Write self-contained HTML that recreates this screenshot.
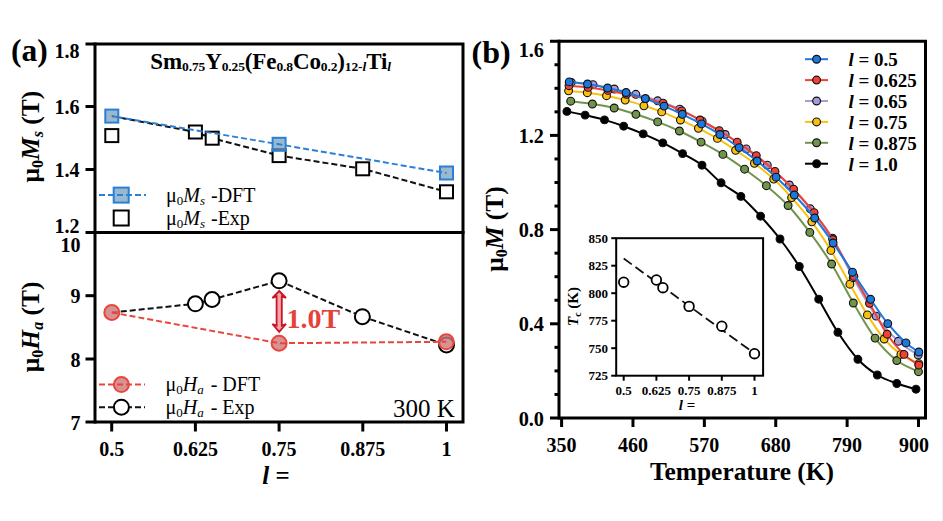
<!DOCTYPE html>
<html><head><meta charset="utf-8"><style>
html,body{margin:0;padding:0;background:#fff;}
body{width:943px;height:521px;overflow:hidden;}
svg{display:block;}
text{font-family:"Liberation Serif", serif;}
</style></head><body>
<svg width="943" height="521" viewBox="0 0 943 521" font-family='"Liberation Serif", serif'>
<rect x="0" y="0" width="943" height="521" fill="#fff"/>
<rect x="942" y="0" width="1" height="521" fill="#eef1f8"/>
<path d="M85.5,44 H463 V422 H85.5" fill="none" stroke="#000" stroke-width="3" stroke-linejoin="miter"/>
<line x1="95" y1="42.5" x2="95" y2="423.5" stroke="#000" stroke-width="3" />
<line x1="85.5" y1="232.5" x2="464.5" y2="232.5" stroke="#000" stroke-width="3" />
<line x1="85.5" y1="106.5" x2="95" y2="106.5" stroke="#000" stroke-width="3" />
<line x1="85.5" y1="169.5" x2="95" y2="169.5" stroke="#000" stroke-width="3" />
<line x1="85.5" y1="295.7" x2="95" y2="295.7" stroke="#000" stroke-width="3" />
<line x1="85.5" y1="359" x2="95" y2="359" stroke="#000" stroke-width="3" />
<line x1="111.7" y1="422" x2="111.7" y2="431.5" stroke="#000" stroke-width="3" />
<line x1="195.4" y1="422" x2="195.4" y2="431.5" stroke="#000" stroke-width="3" />
<line x1="279.1" y1="422" x2="279.1" y2="431.5" stroke="#000" stroke-width="3" />
<line x1="362.8" y1="422" x2="362.8" y2="431.5" stroke="#000" stroke-width="3" />
<line x1="446.5" y1="422" x2="446.5" y2="431.5" stroke="#000" stroke-width="3" />
<text x="79.5" y="57.8" font-size="20" text-anchor="end" font-weight="bold" font-style="normal" fill="#000" >1.8</text>
<text x="79.5" y="114.3" font-size="20" text-anchor="end" font-weight="bold" font-style="normal" fill="#000" >1.6</text>
<text x="79.5" y="176.8" font-size="20" text-anchor="end" font-weight="bold" font-style="normal" fill="#000" >1.4</text>
<text x="79.5" y="233" font-size="20" text-anchor="end" font-weight="bold" font-style="normal" fill="#000" >1.2</text>
<text x="80.5" y="252.2" font-size="20" text-anchor="end" font-weight="bold" font-style="normal" fill="#000" >10</text>
<text x="80.5" y="303" font-size="20" text-anchor="end" font-weight="bold" font-style="normal" fill="#000" >9</text>
<text x="80.5" y="366.9" font-size="20" text-anchor="end" font-weight="bold" font-style="normal" fill="#000" >8</text>
<text x="80.5" y="429.6" font-size="20" text-anchor="end" font-weight="bold" font-style="normal" fill="#000" >7</text>
<text x="111.7" y="455.5" font-size="20" text-anchor="middle" font-weight="bold" font-style="normal" fill="#000" >0.5</text>
<text x="195.4" y="455.5" font-size="20" text-anchor="middle" font-weight="bold" font-style="normal" fill="#000" >0.625</text>
<text x="279.1" y="455.5" font-size="20" text-anchor="middle" font-weight="bold" font-style="normal" fill="#000" >0.75</text>
<text x="362.8" y="455.5" font-size="20" text-anchor="middle" font-weight="bold" font-style="normal" fill="#000" >0.875</text>
<text x="446.5" y="455.5" font-size="20" text-anchor="middle" font-weight="bold" font-style="normal" fill="#000" >1</text>
<text x="276" y="483.5" font-size="25" font-weight="bold" text-anchor="middle"><tspan font-style="italic">l</tspan> =</text>
<text x="11" y="60.5" font-size="31.5" text-anchor="start" font-weight="bold" font-style="normal" fill="#000" >(a)</text>
<text transform="translate(38.5,136.5) rotate(-90)" font-size="25.5" font-weight="bold" text-anchor="middle">&#956;<tspan font-size="16" dy="4">0</tspan><tspan font-style="italic" dy="-4">M</tspan><tspan font-style="italic" font-size="16" dy="4">s</tspan><tspan dy="-4"> (T)</tspan></text>
<text transform="translate(38.5,326.8) rotate(-90)" font-size="25.5" font-weight="bold" text-anchor="middle">&#956;<tspan font-size="16" dy="4">0</tspan><tspan font-style="italic" dy="-4">H</tspan><tspan font-style="italic" font-size="16" dy="4">a</tspan><tspan dy="-4"> (T)</tspan></text>
<text x="150.3" y="68.6" font-size="23" font-weight="bold" letter-spacing="-0.12">Sm<tspan font-size="13.5" dy="2.6">0.75</tspan><tspan dy="-2.6">Y</tspan><tspan font-size="13.5" dy="2.6">0.25</tspan><tspan dy="-2.6">(Fe</tspan><tspan font-size="13.5" dy="2.6">0.8</tspan><tspan dy="-2.6">Co</tspan><tspan font-size="13.5" dy="2.6">0.2</tspan><tspan dy="-2.6">)</tspan><tspan font-size="13.5" dy="2.6">12-</tspan><tspan font-size="13.5" font-style="italic">l</tspan><tspan dy="-2.6">Ti</tspan><tspan font-size="13.5" font-style="italic" dy="2.6">l</tspan></text>
<polyline points="111.8,116.1 195.4,132 212.2,138.2 279.1,155.6 362.7,168.8 446.5,191.8" fill="none" stroke="#111" stroke-width="2" stroke-dasharray="6,3"/>
<rect x="105.3" y="129.1" width="13" height="13" fill="#fff" stroke="#000" stroke-width="2"/>
<rect x="188.9" y="125.5" width="13" height="13" fill="#fff" stroke="#000" stroke-width="2"/>
<rect x="205.7" y="131.7" width="13" height="13" fill="#fff" stroke="#000" stroke-width="2"/>
<rect x="272.6" y="149.1" width="13" height="13" fill="#fff" stroke="#000" stroke-width="2"/>
<rect x="356.2" y="162.3" width="13" height="13" fill="#fff" stroke="#000" stroke-width="2"/>
<rect x="440.0" y="185.3" width="13" height="13" fill="#fff" stroke="#000" stroke-width="2"/>
<rect x="105.3" y="109.6" width="13" height="13" fill="rgba(120,160,190,0.75)" stroke="#2a7fd6" stroke-width="2"/>
<rect x="272.6" y="137.8" width="13" height="13" fill="rgba(120,160,190,0.75)" stroke="#2a7fd6" stroke-width="2"/>
<rect x="440.0" y="166.5" width="13" height="13" fill="rgba(120,160,190,0.75)" stroke="#2a7fd6" stroke-width="2"/>
<polyline points="111.8,116.1 279.1,144.3 446.5,173" fill="none" stroke="#2a7fd6" stroke-width="2" stroke-dasharray="6,3" stroke-dashoffset="4"/>
<rect x="113.7" y="187.6" width="15" height="15" fill="rgba(120,160,190,0.75)" stroke="#2a7fd6" stroke-width="2"/>
<line x1="99" y1="195.1" x2="146" y2="195.1" stroke="#2a7fd6" stroke-width="2" stroke-dasharray="6,3"/>
<rect x="113.7" y="210.5" width="15" height="15" fill="#fff" stroke="#000" stroke-width="2"/>
<text x="166" y="202" font-size="20">&#956;<tspan font-size="13" dy="3">0</tspan><tspan font-style="italic" dy="-3">M</tspan><tspan font-style="italic" font-size="13" dy="3">s</tspan><tspan dy="-3" dx="1"> -DFT</tspan></text>
<text x="166" y="224.6" font-size="20">&#956;<tspan font-size="13" dy="3">0</tspan><tspan font-style="italic" dy="-3">M</tspan><tspan font-style="italic" font-size="13" dy="3">s</tspan><tspan dy="-3" dx="1"> -Exp</tspan></text>
<polyline points="111.8,312.5 195.4,303.8 212.1,299.5 279.1,280.8 362.4,316.7 446.5,345" fill="none" stroke="#111" stroke-width="2" stroke-dasharray="6,3"/>
<circle cx="195.4" cy="303.8" r="7.5" fill="#fff" stroke="#000" stroke-width="2"/>
<circle cx="212.1" cy="299.5" r="7.5" fill="#fff" stroke="#000" stroke-width="2"/>
<circle cx="279.1" cy="280.8" r="7.5" fill="#fff" stroke="#000" stroke-width="2"/>
<circle cx="362.4" cy="316.7" r="7.5" fill="#fff" stroke="#000" stroke-width="2"/>
<circle cx="446.5" cy="345" r="7.5" fill="#fff" stroke="#000" stroke-width="2"/>
<circle cx="111.8" cy="312.5" r="7.5" fill="rgba(205,120,120,0.8)" stroke="#e8453c" stroke-width="2"/>
<circle cx="279.1" cy="343.2" r="7.5" fill="rgba(205,120,120,0.8)" stroke="#e8453c" stroke-width="2"/>
<circle cx="446.3" cy="341.8" r="7.5" fill="rgba(205,120,120,0.8)" stroke="#e8453c" stroke-width="2"/>
<polyline points="111.8,312.5 279.1,343.2 446.3,341.8" fill="none" stroke="#e8453c" stroke-width="2" stroke-dasharray="6,3"/>
<path d="M279.2,291 L286,298 L281.8,296.3 L281.8,325.7 L286,324 L279.2,331.8 L272.4,324 L276.6,325.7 L276.6,296.3 L272.4,298 Z" fill="#f5a3b3" stroke="#c8161f" stroke-width="1.8" stroke-linejoin="miter"/>
<text x="286.5" y="328" font-size="28" text-anchor="start" font-weight="bold" font-style="normal" fill="#e5433a" >1.0T</text>
<circle cx="121.4" cy="384.6" r="7.5" fill="rgba(205,120,120,0.8)" stroke="#e8453c" stroke-width="2"/>
<line x1="99" y1="384.6" x2="145" y2="384.6" stroke="#e8453c" stroke-width="2" stroke-dasharray="6,3"/>
<line x1="99" y1="407.2" x2="145" y2="407.2" stroke="#111" stroke-width="2" stroke-dasharray="6,3"/>
<circle cx="121.4" cy="407.2" r="7.5" fill="#fff" stroke="#000" stroke-width="2"/>
<text x="165.5" y="391" font-size="20">&#956;<tspan font-size="13" dy="3">0</tspan><tspan font-style="italic" dy="-3">H</tspan><tspan font-style="italic" font-size="13" dy="3">a</tspan><tspan dy="-3" dx="2"> - DFT</tspan></text>
<text x="165.5" y="413.8" font-size="20">&#956;<tspan font-size="13" dy="3">0</tspan><tspan font-style="italic" dy="-3">H</tspan><tspan font-style="italic" font-size="13" dy="3">a</tspan><tspan dy="-3" dx="2"> - Exp</tspan></text>
<text x="454.8" y="417" font-size="25" text-anchor="end" font-weight="normal" font-style="normal" fill="#000" >300 K</text>
<path d="M550,41.2 H925.5 V418 H550" fill="none" stroke="#000" stroke-width="3"/>
<line x1="559" y1="39.7" x2="559" y2="419.5" stroke="#000" stroke-width="3" />
<line x1="554.5" y1="394.45" x2="559" y2="394.45" stroke="#000" stroke-width="3" />
<line x1="554.5" y1="370.9" x2="559" y2="370.9" stroke="#000" stroke-width="3" />
<line x1="554.5" y1="347.35" x2="559" y2="347.35" stroke="#000" stroke-width="3" />
<line x1="550" y1="323.8" x2="559" y2="323.8" stroke="#000" stroke-width="3" />
<line x1="554.5" y1="300.25" x2="559" y2="300.25" stroke="#000" stroke-width="3" />
<line x1="554.5" y1="276.7" x2="559" y2="276.7" stroke="#000" stroke-width="3" />
<line x1="554.5" y1="253.15" x2="559" y2="253.15" stroke="#000" stroke-width="3" />
<line x1="550" y1="229.60000000000002" x2="559" y2="229.60000000000002" stroke="#000" stroke-width="3" />
<line x1="554.5" y1="206.05" x2="559" y2="206.05" stroke="#000" stroke-width="3" />
<line x1="554.5" y1="182.5" x2="559" y2="182.5" stroke="#000" stroke-width="3" />
<line x1="554.5" y1="158.95" x2="559" y2="158.95" stroke="#000" stroke-width="3" />
<line x1="550" y1="135.39999999999998" x2="559" y2="135.39999999999998" stroke="#000" stroke-width="3" />
<line x1="554.5" y1="111.85000000000002" x2="559" y2="111.85000000000002" stroke="#000" stroke-width="3" />
<line x1="554.5" y1="88.30000000000001" x2="559" y2="88.30000000000001" stroke="#000" stroke-width="3" />
<line x1="554.5" y1="64.75" x2="559" y2="64.75" stroke="#000" stroke-width="3" />
<line x1="561.6" y1="418" x2="561.6" y2="427" stroke="#000" stroke-width="3" />
<text x="561.6" y="452" font-size="20" text-anchor="middle" font-weight="bold" font-style="normal" fill="#000" >350</text>
<line x1="632.98" y1="418" x2="632.98" y2="427" stroke="#000" stroke-width="3" />
<text x="632.98" y="452" font-size="20" text-anchor="middle" font-weight="bold" font-style="normal" fill="#000" >460</text>
<line x1="704.36" y1="418" x2="704.36" y2="427" stroke="#000" stroke-width="3" />
<text x="704.36" y="452" font-size="20" text-anchor="middle" font-weight="bold" font-style="normal" fill="#000" >570</text>
<line x1="775.74" y1="418" x2="775.74" y2="427" stroke="#000" stroke-width="3" />
<text x="775.74" y="452" font-size="20" text-anchor="middle" font-weight="bold" font-style="normal" fill="#000" >680</text>
<line x1="847.12" y1="418" x2="847.12" y2="427" stroke="#000" stroke-width="3" />
<text x="847.12" y="452" font-size="20" text-anchor="middle" font-weight="bold" font-style="normal" fill="#000" >790</text>
<line x1="918.5" y1="418" x2="918.5" y2="427" stroke="#000" stroke-width="3" />
<text x="914" y="452" font-size="20" text-anchor="middle" font-weight="bold" font-style="normal" fill="#000" >900</text>
<text x="544" y="56.5" font-size="20.3" text-anchor="end" font-weight="bold" font-style="normal" fill="#000" >1.6</text>
<text x="544" y="142.89999999999998" font-size="20.3" text-anchor="end" font-weight="bold" font-style="normal" fill="#000" >1.2</text>
<text x="544" y="237.10000000000002" font-size="20.3" text-anchor="end" font-weight="bold" font-style="normal" fill="#000" >0.8</text>
<text x="544" y="331.3" font-size="20.3" text-anchor="end" font-weight="bold" font-style="normal" fill="#000" >0.4</text>
<text x="544" y="425.5" font-size="20.3" text-anchor="end" font-weight="bold" font-style="normal" fill="#000" >0.0</text>
<text x="471.5" y="62.5" font-size="32" text-anchor="start" font-weight="bold" font-style="normal" fill="#000" >(b)</text>
<text x="742" y="480.2" font-size="25.4" text-anchor="middle" font-weight="bold" font-style="normal" fill="#000" >Temperature (K)</text>
<text transform="translate(503,229) rotate(-90)" font-size="25.5" font-weight="bold" text-anchor="middle">&#956;<tspan font-size="16" dy="4">0</tspan><tspan font-style="italic" dy="-4">M</tspan><tspan font-style="normal"> (T)</tspan></text>
<path d="M566.90,111.40 C569.93,112.02 578.83,113.68 585.10,115.10 C591.37,116.52 598.07,118.05 604.50,119.90 C610.93,121.75 617.25,123.87 623.70,126.20 C630.15,128.53 636.68,131.12 643.20,133.90 C649.72,136.68 656.23,139.62 662.80,142.90 C669.37,146.18 676.07,149.88 682.60,153.60 C689.13,157.32 695.58,160.33 702.00,165.20 C708.42,170.07 714.62,177.60 721.10,182.80 C727.58,188.00 734.32,190.83 740.90,196.40 C747.48,201.97 754.08,209.10 760.60,216.20 C767.12,223.30 773.55,230.62 780.00,239.00 C786.45,247.38 792.85,256.47 799.30,266.50 C805.75,276.53 812.27,288.23 818.70,299.20 C825.13,310.17 831.37,322.28 837.90,332.30 C844.43,342.32 851.33,352.18 857.90,359.30 C864.47,366.42 870.82,370.97 877.30,375.00 C883.78,379.03 890.35,381.13 896.80,383.50 C903.25,385.87 912.80,388.25 916.00,389.20" fill="none" stroke="#000" stroke-width="2"/>
<circle cx="566.9" cy="111.4" r="3.9" fill="#000" stroke="#111" stroke-width="1.1"/>
<circle cx="585.1" cy="115.1" r="3.9" fill="#000" stroke="#111" stroke-width="1.1"/>
<circle cx="604.5" cy="119.9" r="3.9" fill="#000" stroke="#111" stroke-width="1.1"/>
<circle cx="623.7" cy="126.2" r="3.9" fill="#000" stroke="#111" stroke-width="1.1"/>
<circle cx="643.2" cy="133.9" r="3.9" fill="#000" stroke="#111" stroke-width="1.1"/>
<circle cx="662.8" cy="142.9" r="3.9" fill="#000" stroke="#111" stroke-width="1.1"/>
<circle cx="682.6" cy="153.6" r="3.9" fill="#000" stroke="#111" stroke-width="1.1"/>
<circle cx="702.0" cy="165.2" r="3.9" fill="#000" stroke="#111" stroke-width="1.1"/>
<circle cx="721.1" cy="182.8" r="3.9" fill="#000" stroke="#111" stroke-width="1.1"/>
<circle cx="740.9" cy="196.4" r="3.9" fill="#000" stroke="#111" stroke-width="1.1"/>
<circle cx="760.6" cy="216.2" r="3.9" fill="#000" stroke="#111" stroke-width="1.1"/>
<circle cx="780.0" cy="239.0" r="3.9" fill="#000" stroke="#111" stroke-width="1.1"/>
<circle cx="799.3" cy="266.5" r="3.9" fill="#000" stroke="#111" stroke-width="1.1"/>
<circle cx="818.7" cy="299.2" r="3.9" fill="#000" stroke="#111" stroke-width="1.1"/>
<circle cx="837.9" cy="332.3" r="3.9" fill="#000" stroke="#111" stroke-width="1.1"/>
<circle cx="857.9" cy="359.3" r="3.9" fill="#000" stroke="#111" stroke-width="1.1"/>
<circle cx="877.3" cy="375.0" r="3.9" fill="#000" stroke="#111" stroke-width="1.1"/>
<circle cx="896.8" cy="383.5" r="3.9" fill="#000" stroke="#111" stroke-width="1.1"/>
<circle cx="916.0" cy="389.2" r="3.9" fill="#000" stroke="#111" stroke-width="1.1"/>
<path d="M570.70,101.20 C574.32,101.67 585.19,102.87 592.44,104.00 C599.69,105.13 606.93,106.28 614.18,108.00 C621.43,109.72 628.67,111.98 635.92,114.30 C643.17,116.62 650.41,119.12 657.66,121.90 C664.91,124.68 672.15,127.63 679.40,131.00 C686.65,134.37 693.89,138.20 701.14,142.10 C708.39,146.00 715.63,149.88 722.88,154.40 C730.13,158.92 737.37,163.98 744.62,169.20 C751.87,174.42 759.11,179.65 766.36,185.70 C773.61,191.75 780.85,197.72 788.10,205.50 C795.35,213.28 802.59,222.65 809.84,232.40 C817.09,242.15 824.33,252.23 831.58,264.00 C838.83,275.77 846.07,290.65 853.32,303.00 C860.57,315.35 867.81,328.52 875.06,338.10 C882.31,347.68 889.55,354.90 896.80,360.50 C904.05,366.10 914.92,369.83 918.54,371.70" fill="none" stroke="#70944b" stroke-width="2"/>
<circle cx="570.7" cy="101.2" r="3.9" fill="#70944b" stroke="#111" stroke-width="1.1"/>
<circle cx="592.4" cy="104.0" r="3.9" fill="#70944b" stroke="#111" stroke-width="1.1"/>
<circle cx="614.2" cy="108.0" r="3.9" fill="#70944b" stroke="#111" stroke-width="1.1"/>
<circle cx="635.9" cy="114.3" r="3.9" fill="#70944b" stroke="#111" stroke-width="1.1"/>
<circle cx="657.7" cy="121.9" r="3.9" fill="#70944b" stroke="#111" stroke-width="1.1"/>
<circle cx="679.4" cy="131.0" r="3.9" fill="#70944b" stroke="#111" stroke-width="1.1"/>
<circle cx="701.1" cy="142.1" r="3.9" fill="#70944b" stroke="#111" stroke-width="1.1"/>
<circle cx="722.9" cy="154.4" r="3.9" fill="#70944b" stroke="#111" stroke-width="1.1"/>
<circle cx="744.6" cy="169.2" r="3.9" fill="#70944b" stroke="#111" stroke-width="1.1"/>
<circle cx="766.4" cy="185.7" r="3.9" fill="#70944b" stroke="#111" stroke-width="1.1"/>
<circle cx="788.1" cy="205.5" r="3.9" fill="#70944b" stroke="#111" stroke-width="1.1"/>
<circle cx="809.8" cy="232.4" r="3.9" fill="#70944b" stroke="#111" stroke-width="1.1"/>
<circle cx="831.6" cy="264.0" r="3.9" fill="#70944b" stroke="#111" stroke-width="1.1"/>
<circle cx="853.3" cy="303.0" r="3.9" fill="#70944b" stroke="#111" stroke-width="1.1"/>
<circle cx="875.1" cy="338.1" r="3.9" fill="#70944b" stroke="#111" stroke-width="1.1"/>
<circle cx="896.8" cy="360.5" r="3.9" fill="#70944b" stroke="#111" stroke-width="1.1"/>
<circle cx="918.5" cy="371.7" r="3.9" fill="#70944b" stroke="#111" stroke-width="1.1"/>
<path d="M568.60,90.80 C571.72,91.12 580.98,91.88 587.30,92.70 C593.62,93.52 600.18,94.47 606.50,95.70 C612.82,96.93 618.97,98.42 625.20,100.10 C631.43,101.78 637.82,103.83 643.90,105.80 C649.98,107.77 655.62,109.53 661.70,111.90 C667.78,114.27 674.28,117.27 680.40,120.00 C686.52,122.73 692.23,125.23 698.40,128.30 C704.57,131.37 711.20,134.73 717.40,138.40 C723.60,142.07 729.43,146.15 735.60,150.30 C741.77,154.45 748.05,158.50 754.40,163.30 C760.75,168.10 767.50,173.38 773.70,179.10 C779.90,184.82 785.25,190.48 791.60,197.60 C797.95,204.72 805.25,213.00 811.80,221.80 C818.35,230.60 824.55,240.00 830.90,250.40 C837.25,260.80 843.82,273.45 849.90,284.20 C855.98,294.95 861.68,305.77 867.40,314.90 C873.12,324.03 878.62,332.42 884.20,339.00 C889.78,345.58 895.13,350.30 900.90,354.40 C906.67,358.50 915.82,362.07 918.80,363.60" fill="none" stroke="#fac00f" stroke-width="2"/>
<circle cx="568.6" cy="90.8" r="3.9" fill="#fac00f" stroke="#111" stroke-width="1.1"/>
<circle cx="587.3" cy="92.7" r="3.9" fill="#fac00f" stroke="#111" stroke-width="1.1"/>
<circle cx="606.5" cy="95.7" r="3.9" fill="#fac00f" stroke="#111" stroke-width="1.1"/>
<circle cx="625.2" cy="100.1" r="3.9" fill="#fac00f" stroke="#111" stroke-width="1.1"/>
<circle cx="643.9" cy="105.8" r="3.9" fill="#fac00f" stroke="#111" stroke-width="1.1"/>
<circle cx="661.7" cy="111.9" r="3.9" fill="#fac00f" stroke="#111" stroke-width="1.1"/>
<circle cx="680.4" cy="120.0" r="3.9" fill="#fac00f" stroke="#111" stroke-width="1.1"/>
<circle cx="698.4" cy="128.3" r="3.9" fill="#fac00f" stroke="#111" stroke-width="1.1"/>
<circle cx="717.4" cy="138.4" r="3.9" fill="#fac00f" stroke="#111" stroke-width="1.1"/>
<circle cx="735.6" cy="150.3" r="3.9" fill="#fac00f" stroke="#111" stroke-width="1.1"/>
<circle cx="754.4" cy="163.3" r="3.9" fill="#fac00f" stroke="#111" stroke-width="1.1"/>
<circle cx="773.7" cy="179.1" r="3.9" fill="#fac00f" stroke="#111" stroke-width="1.1"/>
<circle cx="791.6" cy="197.6" r="3.9" fill="#fac00f" stroke="#111" stroke-width="1.1"/>
<circle cx="811.8" cy="221.8" r="3.9" fill="#fac00f" stroke="#111" stroke-width="1.1"/>
<circle cx="830.9" cy="250.4" r="3.9" fill="#fac00f" stroke="#111" stroke-width="1.1"/>
<circle cx="849.9" cy="284.2" r="3.9" fill="#fac00f" stroke="#111" stroke-width="1.1"/>
<circle cx="867.4" cy="314.9" r="3.9" fill="#fac00f" stroke="#111" stroke-width="1.1"/>
<circle cx="884.2" cy="339.0" r="3.9" fill="#fac00f" stroke="#111" stroke-width="1.1"/>
<circle cx="900.9" cy="354.4" r="3.9" fill="#fac00f" stroke="#111" stroke-width="1.1"/>
<circle cx="918.8" cy="363.6" r="3.9" fill="#fac00f" stroke="#111" stroke-width="1.1"/>
<path d="M571.30,82.50 C574.92,82.87 585.83,83.62 593.00,84.70 C600.17,85.78 607.17,87.40 614.30,89.00 C621.43,90.60 628.57,92.33 635.80,94.30 C643.03,96.27 650.37,98.32 657.70,100.80 C665.03,103.28 672.38,105.80 679.80,109.20 C687.22,112.60 694.63,116.98 702.20,121.20 C709.77,125.42 717.87,129.88 725.20,134.50 C732.53,139.12 739.18,143.78 746.20,148.90 C753.22,154.02 760.10,159.18 767.30,165.20 C774.50,171.22 782.23,177.73 789.40,185.00 C796.57,192.27 803.10,199.95 810.30,208.80 C817.50,217.65 825.45,226.62 832.60,238.10 C839.75,249.58 845.95,264.70 853.20,277.70 C860.45,290.70 868.58,305.50 876.10,316.10 C883.62,326.70 891.28,334.82 898.30,341.30 C905.32,347.78 914.88,352.72 918.20,355.00" fill="none" stroke="#a59bd7" stroke-width="2"/>
<circle cx="571.3" cy="82.5" r="3.9" fill="#a59bd7" stroke="#111" stroke-width="1.1"/>
<circle cx="593.0" cy="84.7" r="3.9" fill="#a59bd7" stroke="#111" stroke-width="1.1"/>
<circle cx="614.3" cy="89.0" r="3.9" fill="#a59bd7" stroke="#111" stroke-width="1.1"/>
<circle cx="635.8" cy="94.3" r="3.9" fill="#a59bd7" stroke="#111" stroke-width="1.1"/>
<circle cx="657.7" cy="100.8" r="3.9" fill="#a59bd7" stroke="#111" stroke-width="1.1"/>
<circle cx="679.8" cy="109.2" r="3.9" fill="#a59bd7" stroke="#111" stroke-width="1.1"/>
<circle cx="702.2" cy="121.2" r="3.9" fill="#a59bd7" stroke="#111" stroke-width="1.1"/>
<circle cx="725.2" cy="134.5" r="3.9" fill="#a59bd7" stroke="#111" stroke-width="1.1"/>
<circle cx="746.2" cy="148.9" r="3.9" fill="#a59bd7" stroke="#111" stroke-width="1.1"/>
<circle cx="767.3" cy="165.2" r="3.9" fill="#a59bd7" stroke="#111" stroke-width="1.1"/>
<circle cx="789.4" cy="185.0" r="3.9" fill="#a59bd7" stroke="#111" stroke-width="1.1"/>
<circle cx="810.3" cy="208.8" r="3.9" fill="#a59bd7" stroke="#111" stroke-width="1.1"/>
<circle cx="832.6" cy="238.1" r="3.9" fill="#a59bd7" stroke="#111" stroke-width="1.1"/>
<circle cx="853.2" cy="277.7" r="3.9" fill="#a59bd7" stroke="#111" stroke-width="1.1"/>
<circle cx="876.1" cy="316.1" r="3.9" fill="#a59bd7" stroke="#111" stroke-width="1.1"/>
<circle cx="898.3" cy="341.3" r="3.9" fill="#a59bd7" stroke="#111" stroke-width="1.1"/>
<circle cx="918.2" cy="355.0" r="3.9" fill="#a59bd7" stroke="#111" stroke-width="1.1"/>
<path d="M569.00,85.70 C572.18,85.98 581.60,86.62 588.10,87.40 C594.60,88.18 601.60,89.25 608.00,90.40 C614.40,91.55 620.25,92.93 626.50,94.30 C632.75,95.67 639.40,97.12 645.50,98.60 C651.60,100.08 657.05,101.15 663.10,103.20 C669.15,105.25 675.65,108.10 681.80,110.90 C687.95,113.70 693.75,116.70 700.00,120.00 C706.25,123.30 713.10,127.00 719.30,130.70 C725.50,134.40 731.03,138.05 737.20,142.20 C743.37,146.35 750.00,150.73 756.30,155.60 C762.60,160.47 768.78,165.80 775.00,171.40 C781.22,177.00 787.08,182.33 793.60,189.20 C800.12,196.07 807.57,204.22 814.10,212.60 C820.63,220.98 826.17,228.87 832.80,239.50 C839.43,250.13 847.78,265.77 853.90,276.40 C860.02,287.03 863.97,293.67 869.50,303.30 C875.03,312.93 881.35,325.68 887.10,334.20 C892.85,342.72 898.72,349.25 904.00,354.40 C909.28,359.55 916.33,363.32 918.80,365.10" fill="none" stroke="#f04137" stroke-width="2"/>
<circle cx="569.0" cy="85.7" r="3.9" fill="#f04137" stroke="#111" stroke-width="1.1"/>
<circle cx="588.1" cy="87.4" r="3.9" fill="#f04137" stroke="#111" stroke-width="1.1"/>
<circle cx="608.0" cy="90.4" r="3.9" fill="#f04137" stroke="#111" stroke-width="1.1"/>
<circle cx="626.5" cy="94.3" r="3.9" fill="#f04137" stroke="#111" stroke-width="1.1"/>
<circle cx="645.5" cy="98.6" r="3.9" fill="#f04137" stroke="#111" stroke-width="1.1"/>
<circle cx="663.1" cy="103.2" r="3.9" fill="#f04137" stroke="#111" stroke-width="1.1"/>
<circle cx="681.8" cy="110.9" r="3.9" fill="#f04137" stroke="#111" stroke-width="1.1"/>
<circle cx="700.0" cy="120.0" r="3.9" fill="#f04137" stroke="#111" stroke-width="1.1"/>
<circle cx="719.3" cy="130.7" r="3.9" fill="#f04137" stroke="#111" stroke-width="1.1"/>
<circle cx="737.2" cy="142.2" r="3.9" fill="#f04137" stroke="#111" stroke-width="1.1"/>
<circle cx="756.3" cy="155.6" r="3.9" fill="#f04137" stroke="#111" stroke-width="1.1"/>
<circle cx="775.0" cy="171.4" r="3.9" fill="#f04137" stroke="#111" stroke-width="1.1"/>
<circle cx="793.6" cy="189.2" r="3.9" fill="#f04137" stroke="#111" stroke-width="1.1"/>
<circle cx="814.1" cy="212.6" r="3.9" fill="#f04137" stroke="#111" stroke-width="1.1"/>
<circle cx="832.8" cy="239.5" r="3.9" fill="#f04137" stroke="#111" stroke-width="1.1"/>
<circle cx="853.9" cy="276.4" r="3.9" fill="#f04137" stroke="#111" stroke-width="1.1"/>
<circle cx="869.5" cy="303.3" r="3.9" fill="#f04137" stroke="#111" stroke-width="1.1"/>
<circle cx="887.1" cy="334.2" r="3.9" fill="#f04137" stroke="#111" stroke-width="1.1"/>
<circle cx="904.0" cy="354.4" r="3.9" fill="#f04137" stroke="#111" stroke-width="1.1"/>
<circle cx="918.8" cy="365.1" r="3.9" fill="#f04137" stroke="#111" stroke-width="1.1"/>
<path d="M569.20,81.90 C572.25,82.25 581.10,82.98 587.50,84.00 C593.90,85.02 601.17,86.58 607.60,88.00 C614.03,89.42 619.82,90.73 626.10,92.50 C632.38,94.27 638.97,96.33 645.30,98.60 C651.63,100.87 657.93,103.48 664.10,106.10 C670.27,108.72 676.07,111.33 682.30,114.30 C688.53,117.27 695.23,120.53 701.50,123.90 C707.77,127.27 713.63,130.55 719.90,134.50 C726.17,138.45 732.90,143.18 739.10,147.60 C745.30,152.02 750.93,156.07 757.10,161.00 C763.27,165.93 769.90,171.53 776.10,177.20 C782.30,182.87 787.87,188.20 794.30,195.00 C800.73,201.80 808.23,210.00 814.70,218.00 C821.17,226.00 826.80,233.97 833.10,243.00 C839.40,252.03 846.25,262.82 852.50,272.20 C858.75,281.58 864.72,290.73 870.60,299.30 C876.48,307.87 881.90,316.33 887.80,323.60 C893.70,330.87 900.83,338.17 906.00,342.90 C911.17,347.63 916.67,350.48 918.80,352.00" fill="none" stroke="#1c78dc" stroke-width="2"/>
<circle cx="569.2" cy="81.9" r="3.9" fill="#1c78dc" stroke="#111" stroke-width="1.1"/>
<circle cx="587.5" cy="84.0" r="3.9" fill="#1c78dc" stroke="#111" stroke-width="1.1"/>
<circle cx="607.6" cy="88.0" r="3.9" fill="#1c78dc" stroke="#111" stroke-width="1.1"/>
<circle cx="626.1" cy="92.5" r="3.9" fill="#1c78dc" stroke="#111" stroke-width="1.1"/>
<circle cx="645.3" cy="98.6" r="3.9" fill="#1c78dc" stroke="#111" stroke-width="1.1"/>
<circle cx="664.1" cy="106.1" r="3.9" fill="#1c78dc" stroke="#111" stroke-width="1.1"/>
<circle cx="682.3" cy="114.3" r="3.9" fill="#1c78dc" stroke="#111" stroke-width="1.1"/>
<circle cx="701.5" cy="123.9" r="3.9" fill="#1c78dc" stroke="#111" stroke-width="1.1"/>
<circle cx="719.9" cy="134.5" r="3.9" fill="#1c78dc" stroke="#111" stroke-width="1.1"/>
<circle cx="739.1" cy="147.6" r="3.9" fill="#1c78dc" stroke="#111" stroke-width="1.1"/>
<circle cx="757.1" cy="161.0" r="3.9" fill="#1c78dc" stroke="#111" stroke-width="1.1"/>
<circle cx="776.1" cy="177.2" r="3.9" fill="#1c78dc" stroke="#111" stroke-width="1.1"/>
<circle cx="794.3" cy="195.0" r="3.9" fill="#1c78dc" stroke="#111" stroke-width="1.1"/>
<circle cx="814.7" cy="218.0" r="3.9" fill="#1c78dc" stroke="#111" stroke-width="1.1"/>
<circle cx="833.1" cy="243.0" r="3.9" fill="#1c78dc" stroke="#111" stroke-width="1.1"/>
<circle cx="852.5" cy="272.2" r="3.9" fill="#1c78dc" stroke="#111" stroke-width="1.1"/>
<circle cx="870.6" cy="299.3" r="3.9" fill="#1c78dc" stroke="#111" stroke-width="1.1"/>
<circle cx="887.8" cy="323.6" r="3.9" fill="#1c78dc" stroke="#111" stroke-width="1.1"/>
<circle cx="906.0" cy="342.9" r="3.9" fill="#1c78dc" stroke="#111" stroke-width="1.1"/>
<circle cx="918.8" cy="352.0" r="3.9" fill="#1c78dc" stroke="#111" stroke-width="1.1"/>
<line x1="805" y1="59.2" x2="828" y2="59.2" stroke="#1c78dc" stroke-width="2" />
<circle cx="816.6" cy="59.2" r="3.9" fill="#1c78dc" stroke="#111" stroke-width="1.2"/>
<text x="848.5" y="66.0" font-size="19" font-weight="bold"><tspan font-style="italic">l</tspan> = 0.5</text>
<line x1="805" y1="80.1" x2="828" y2="80.1" stroke="#f04137" stroke-width="2" />
<circle cx="816.6" cy="80.1" r="3.9" fill="#f04137" stroke="#111" stroke-width="1.2"/>
<text x="848.5" y="86.89999999999999" font-size="19" font-weight="bold"><tspan font-style="italic">l</tspan> = 0.625</text>
<line x1="805" y1="101.0" x2="828" y2="101.0" stroke="#a59bd7" stroke-width="2" />
<circle cx="816.6" cy="101.0" r="3.9" fill="#a59bd7" stroke="#111" stroke-width="1.2"/>
<text x="848.5" y="107.8" font-size="19" font-weight="bold"><tspan font-style="italic">l</tspan> = 0.65</text>
<line x1="805" y1="121.9" x2="828" y2="121.9" stroke="#fac00f" stroke-width="2" />
<circle cx="816.6" cy="121.9" r="3.9" fill="#fac00f" stroke="#111" stroke-width="1.2"/>
<text x="848.5" y="128.70000000000002" font-size="19" font-weight="bold"><tspan font-style="italic">l</tspan> = 0.75</text>
<line x1="805" y1="142.8" x2="828" y2="142.8" stroke="#70944b" stroke-width="2" />
<circle cx="816.6" cy="142.8" r="3.9" fill="#70944b" stroke="#111" stroke-width="1.2"/>
<text x="848.5" y="149.60000000000002" font-size="19" font-weight="bold"><tspan font-style="italic">l</tspan> = 0.875</text>
<line x1="805" y1="163.7" x2="828" y2="163.7" stroke="#000" stroke-width="2" />
<circle cx="816.6" cy="163.7" r="3.9" fill="#000" stroke="#111" stroke-width="1.2"/>
<text x="848.5" y="170.5" font-size="19" font-weight="bold"><tspan font-style="italic">l</tspan> = 1.0</text>
<rect x="616.2" y="238.2" width="146.89999999999998" height="137.5" fill="#fff" stroke="#000" stroke-width="2"/>
<line x1="611.2" y1="238.2" x2="616.2" y2="238.2" stroke="#000" stroke-width="2" />
<text x="608" y="242.79999999999998" font-size="13" text-anchor="end" font-weight="bold" font-style="normal" fill="#000" >850</text>
<line x1="611.2" y1="265.7" x2="616.2" y2="265.7" stroke="#000" stroke-width="2" />
<text x="608" y="270.3" font-size="13" text-anchor="end" font-weight="bold" font-style="normal" fill="#000" >825</text>
<line x1="611.2" y1="293.2" x2="616.2" y2="293.2" stroke="#000" stroke-width="2" />
<text x="608" y="297.8" font-size="13" text-anchor="end" font-weight="bold" font-style="normal" fill="#000" >800</text>
<line x1="611.2" y1="320.7" x2="616.2" y2="320.7" stroke="#000" stroke-width="2" />
<text x="608" y="325.3" font-size="13" text-anchor="end" font-weight="bold" font-style="normal" fill="#000" >775</text>
<line x1="611.2" y1="348.2" x2="616.2" y2="348.2" stroke="#000" stroke-width="2" />
<text x="608" y="352.8" font-size="13" text-anchor="end" font-weight="bold" font-style="normal" fill="#000" >750</text>
<line x1="611.2" y1="375.7" x2="616.2" y2="375.7" stroke="#000" stroke-width="2" />
<text x="608" y="380.3" font-size="13" text-anchor="end" font-weight="bold" font-style="normal" fill="#000" >725</text>
<line x1="623.7" y1="375.7" x2="623.7" y2="380.7" stroke="#000" stroke-width="2" />
<text x="623.7" y="395.3" font-size="13" text-anchor="middle" font-weight="bold" font-style="normal" fill="#000" >0.5</text>
<line x1="656.4000000000001" y1="375.7" x2="656.4000000000001" y2="380.7" stroke="#000" stroke-width="2" />
<text x="656.4000000000001" y="395.3" font-size="13" text-anchor="middle" font-weight="bold" font-style="normal" fill="#000" >0.625</text>
<line x1="689.1" y1="375.7" x2="689.1" y2="380.7" stroke="#000" stroke-width="2" />
<text x="689.1" y="395.3" font-size="13" text-anchor="middle" font-weight="bold" font-style="normal" fill="#000" >0.75</text>
<line x1="721.8" y1="375.7" x2="721.8" y2="380.7" stroke="#000" stroke-width="2" />
<text x="721.8" y="395.3" font-size="13" text-anchor="middle" font-weight="bold" font-style="normal" fill="#000" >0.875</text>
<line x1="754.5" y1="375.7" x2="754.5" y2="380.7" stroke="#000" stroke-width="2" />
<text x="754.5" y="395.3" font-size="13" text-anchor="middle" font-weight="bold" font-style="normal" fill="#000" >1</text>
<text x="687" y="409.5" font-size="15" font-weight="bold" text-anchor="middle"><tspan font-style="italic">l</tspan> =</text>
<text transform="translate(578,306.5) rotate(-90)" font-size="15" font-weight="bold" text-anchor="middle"><tspan font-style="italic">T</tspan><tspan font-size="10" dy="3">c</tspan><tspan dy="-3"> (K)</tspan></text>
<line x1="623.7" y1="258.5" x2="754.5" y2="353.5" stroke="#111" stroke-width="1.8" stroke-dasharray="10,4.5"/>
<circle cx="623.7" cy="282.2" r="4.8" fill="#fff" stroke="#000" stroke-width="1.8"/>
<circle cx="656.4" cy="280.0" r="4.8" fill="#fff" stroke="#000" stroke-width="1.8"/>
<circle cx="662.9" cy="287.7" r="4.8" fill="#fff" stroke="#000" stroke-width="1.8"/>
<circle cx="689.1" cy="306.4" r="4.8" fill="#fff" stroke="#000" stroke-width="1.8"/>
<circle cx="721.8" cy="326.2" r="4.8" fill="#fff" stroke="#000" stroke-width="1.8"/>
<circle cx="754.5" cy="353.7" r="4.8" fill="#fff" stroke="#000" stroke-width="1.8"/>
</svg>
</body></html>
